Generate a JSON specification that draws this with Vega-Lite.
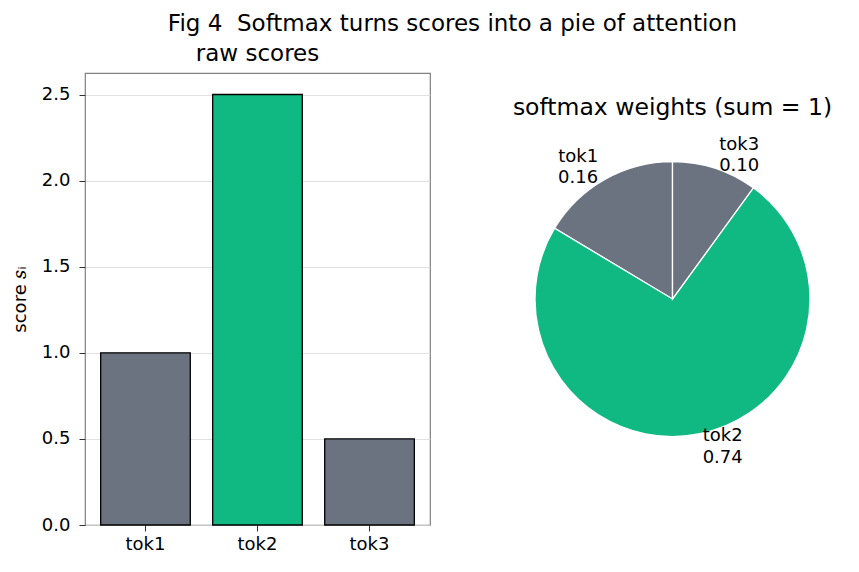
{
  "$schema": "https://vega.github.io/schema/vega-lite/v6.json",
  "background": "white",
  "padding": {"left": 10, "top": 13, "right": 0, "bottom": 0},
  "config": {"font": "DejaVu Sans", "view": {"stroke": null}, "axis": {"labelFont": "DejaVu Sans", "titleFont": "DejaVu Sans", "labelColor": "black", "titleColor": "black", "titleFontWeight": "normal"}},
  "title": {"text": "Fig 4\u00a0 Softmax turns scores into a pie of attention", "fontSize": 23, "fontWeight": "normal", "anchor": "middle", "color": "black", "font": "DejaVu Sans", "offset": 6, "dx": 31},
  "datasets": {
    "scores": [
      {"token": "tok1", "score": 1.0, "weight": 0.164},
      {"token": "tok2", "score": 2.5, "weight": 0.736},
      {"token": "tok3", "score": 0.5, "weight": 0.1}
    ]
  },
  "spacing": 81,
  "hconcat": [
    {
      "width": 345,
      "height": 452,
      "view": {"stroke": "#808080", "strokeWidth": 1.2},
      "title": {"text": "raw scores", "fontSize": 23, "fontWeight": "normal", "color": "black", "font": "DejaVu Sans", "offset": 7},
      "data": {"name": "scores"},
      "mark": {"type": "bar", "stroke": "black", "strokeWidth": 1.3},
      "encoding": {
        "x": {"field": "token", "type": "nominal", "scale": {"paddingInner": 0.2, "paddingOuter": 0.14},
          "axis": {"title": null, "labelAngle": 0, "labelFontSize": 18, "domain": false, "grid": false, "tickSize": 6, "tickColor": "#333333", "labelPadding": 4}},
        "y": {"field": "score", "type": "quantitative", "scale": {"domain": [0, 2.625], "nice": false},
          "axis": {"title": "score 𝑠ᵢ", "titleFontSize": 18, "values": [0, 0.5, 1, 1.5, 2, 2.5], "format": ".1f", "labelFontSize": 18, "domain": false, "tickSize": 6, "tickColor": "#333333", "labelPadding": 9, "gridColor": "#d9d9d9", "gridWidth": 0.8, "titlePadding": 12}},
        "color": {"field": "token", "type": "nominal", "scale": {"domain": ["tok1", "tok2", "tok3"], "range": ["#6b7280", "#10b981", "#6b7280"]}, "legend": null}
      }
    },
    {
      "width": 275,
      "height": 452,
      "title": {"text": "softmax weights (sum = 1)", "fontSize": 23.5, "fontWeight": "normal", "color": "black", "font": "DejaVu Sans", "offset": -46},
      "data": {"name": "scores"},
      "transform": [
        {"window": [{"op": "sum", "field": "weight", "as": "cum"}], "sort": [{"field": "token", "order": "descending"}], "frame": [null, 0]},
        {"calculate": "datum.cum - datum.weight", "as": "start"},
        {"calculate": "datum.cum - datum.weight / 2", "as": "mid"},
        {"calculate": "datum.token + '\\n' + format(datum.weight, '.2f')", "as": "label"}
      ],
      "layer": [
        {
          "mark": {"type": "arc", "outerRadius": 137.5, "stroke": "white", "strokeWidth": 1.3},
          "encoding": {
            "theta": {"field": "start", "type": "quantitative", "stack": null, "scale": {"domain": [0, 1]}},
            "theta2": {"field": "cum"},
            "color": {"field": "token", "type": "nominal", "scale": {"domain": ["tok1", "tok2", "tok3"], "range": ["#6b7280", "#10b981", "#6b7280"]}, "legend": null}
          }
        },
        {
          "transform": [{"filter": "datum.token == 'tok1'"}],
          "mark": {"type": "text", "radius": 151, "align": "right", "baseline": "middle", "fontSize": 18, "lineBreak": "\n", "lineHeight": 21.6, "dy": -10.8, "color": "black"},
          "encoding": {
            "theta": {"field": "mid", "type": "quantitative", "stack": null, "scale": {"domain": [0, 1]}},
            "text": {"field": "label", "type": "nominal"}
          }
        },
        {
          "transform": [{"filter": "datum.token != 'tok1'"}],
          "mark": {"type": "text", "radius": 151, "align": "left", "baseline": "middle", "fontSize": 18, "lineBreak": "\n", "lineHeight": 21.6, "dy": -10.8, "color": "black"},
          "encoding": {
            "theta": {"field": "mid", "type": "quantitative", "stack": null, "scale": {"domain": [0, 1]}},
            "text": {"field": "label", "type": "nominal"}
          }
        }
      ]
    }
  ]
}
